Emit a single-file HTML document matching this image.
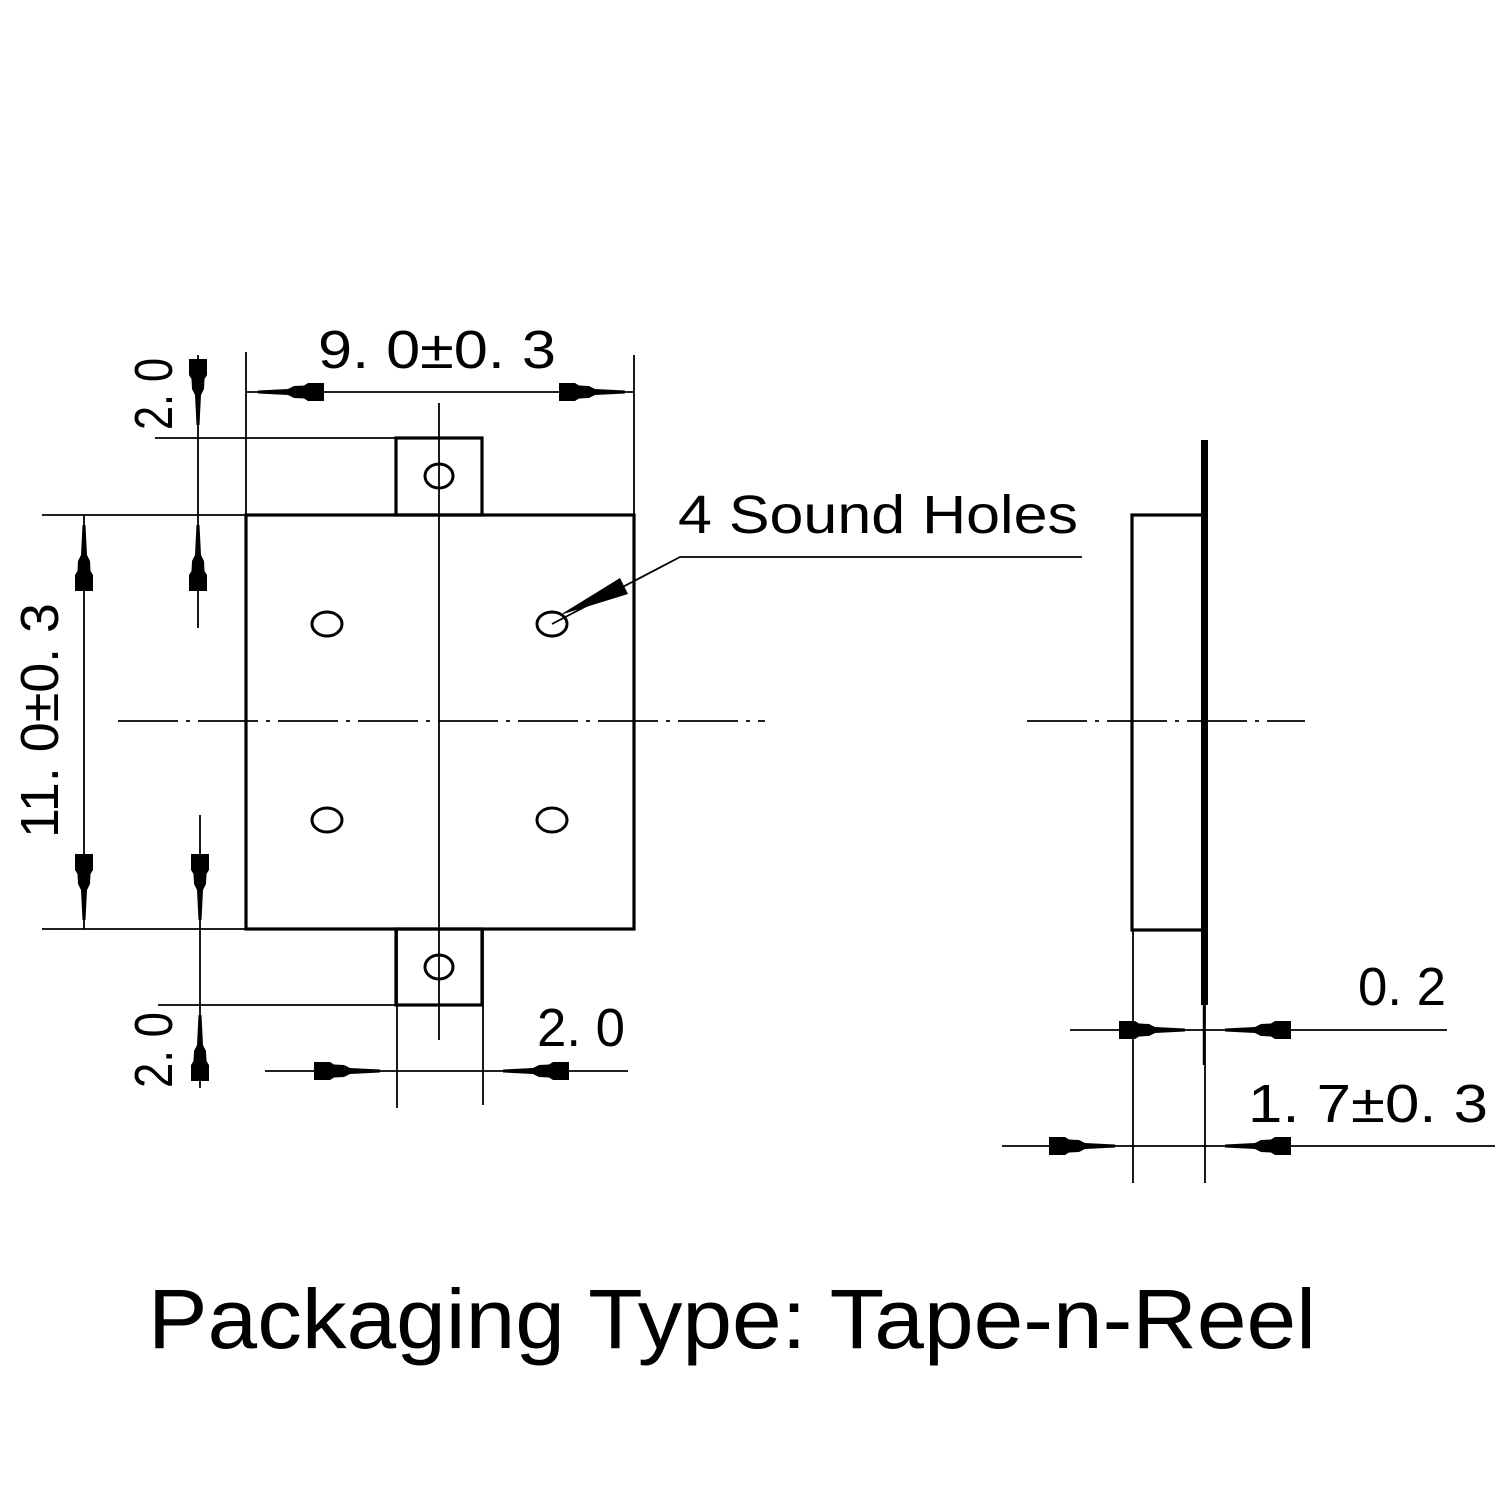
<!DOCTYPE html>
<html><head><meta charset="utf-8"><style>html,body{margin:0;padding:0;background:#fff}svg{display:block}</style></head>
<body>
<svg width="1500" height="1500" viewBox="0 0 1500 1500" xmlns="http://www.w3.org/2000/svg">
<defs>
<path id="a" d="M0,-1.5 L30,-3 L36,-6 L46,-6.5 L50,-9 L66,-9 L66,9 L50,9 L46,6.5 L36,6 L30,3 L0,1.5Z" fill="#000"/>
</defs>
<rect width="1500" height="1500" fill="#fff"/>
<g stroke="#000" fill="none" stroke-width="1.8">
<line x1="246" y1="352" x2="246" y2="515"/>
<line x1="634" y1="355" x2="634" y2="515"/>
<line x1="246" y1="392" x2="634" y2="392"/>
<line x1="42" y1="515" x2="246" y2="515"/>
<line x1="42" y1="929" x2="246" y2="929"/>
<line x1="155" y1="438" x2="396" y2="438"/>
<line x1="158" y1="1005" x2="396" y2="1005"/>
<line x1="84" y1="515" x2="84" y2="929"/>
<line x1="198" y1="355" x2="198" y2="628"/>
<line x1="200" y1="815" x2="200" y2="1088"/>
<line x1="439" y1="403" x2="439" y2="1040"/>
<line x1="118" y1="721" x2="765" y2="721" stroke-dasharray="60,8,4,8"/>
<line x1="397" y1="930" x2="397" y2="1108"/>
<line x1="483" y1="930" x2="483" y2="1105"/>
<line x1="265" y1="1071" x2="628" y2="1071"/>
<polyline points="552,624 680,557 1082,557"/>
<line x1="1027" y1="721" x2="1305" y2="721" stroke-dasharray="60,8,4,8"/>
<line x1="1133" y1="930" x2="1133" y2="1183"/>
<line x1="1205" y1="1005" x2="1205" y2="1183"/>
<line x1="1070" y1="1030" x2="1447" y2="1030"/>
<line x1="1002" y1="1146" x2="1495" y2="1146"/>
</g>
<g stroke="#000" fill="none" stroke-width="3.2">
<rect x="246" y="515" width="388" height="414"/>
<rect x="396" y="438" width="86" height="77"/>
<rect x="396" y="929" width="86" height="76"/>
<rect x="1132" y="515" width="71" height="415"/>
</g>
<rect x="1201" y="440" width="7" height="565" fill="#000"/>
<line x1="1204" y1="1005" x2="1204" y2="1065" stroke="#000" stroke-width="2.5"/>
<g stroke="#000" fill="none" stroke-width="3">
<ellipse cx="439" cy="476" rx="14" ry="12"/>
<ellipse cx="439" cy="967" rx="14" ry="12"/>
<ellipse cx="327" cy="624" rx="15" ry="12"/>
<ellipse cx="552" cy="624" rx="15" ry="12"/>
<ellipse cx="327" cy="820" rx="15" ry="12"/>
<ellipse cx="552" cy="820" rx="15" ry="12"/>
</g>
<polygon points="560,615 620,578 628,594" fill="#000"/>
<use href="#a" transform="translate(258,392)"/>
<use href="#a" transform="translate(625,392) rotate(180)"/>
<use href="#a" transform="translate(84,525) rotate(90)"/>
<use href="#a" transform="translate(84,920) rotate(-90)"/>
<use href="#a" transform="translate(198,425) rotate(-90)"/>
<use href="#a" transform="translate(198,525) rotate(90)"/>
<use href="#a" transform="translate(200,920) rotate(-90)"/>
<use href="#a" transform="translate(200,1015) rotate(90)"/>
<use href="#a" transform="translate(380,1071) rotate(180)"/>
<use href="#a" transform="translate(503,1071)"/>
<use href="#a" transform="translate(1185,1030) rotate(180)"/>
<use href="#a" transform="translate(1225,1030)"/>
<use href="#a" transform="translate(1115,1146) rotate(180)"/>
<use href="#a" transform="translate(1225,1146)"/>
<g font-family="Liberation Sans Narrow, Liberation Sans, sans-serif" font-size="54" fill="#000">
<text x="318" y="368" textLength="238" lengthAdjust="spacingAndGlyphs">9. 0±0. 3</text>
<text x="678" y="533" textLength="400" lengthAdjust="spacingAndGlyphs">4 Sound Holes</text>
<text x="537" y="1046" textLength="88" lengthAdjust="spacingAndGlyphs">2. 0</text>
<text x="1358" y="1005" textLength="88" lengthAdjust="spacingAndGlyphs">0. 2</text>
<text x="1248" y="1122" textLength="240" lengthAdjust="spacingAndGlyphs">1. 7±0. 3</text>
<text transform="translate(172,430) rotate(-90)" textLength="72" lengthAdjust="spacingAndGlyphs">2. 0</text>
<text transform="translate(172,1088) rotate(-90)" textLength="76" lengthAdjust="spacingAndGlyphs">2. 0</text>
<text transform="translate(58,838) rotate(-90)" textLength="235" lengthAdjust="spacingAndGlyphs">11. 0±0. 3</text>
</g>
<text x="148" y="1348" font-family="Liberation Sans, sans-serif" font-size="84" textLength="1168" lengthAdjust="spacingAndGlyphs" fill="#000">Packaging Type: Tape-n-Reel</text>
</svg>
</body></html>
